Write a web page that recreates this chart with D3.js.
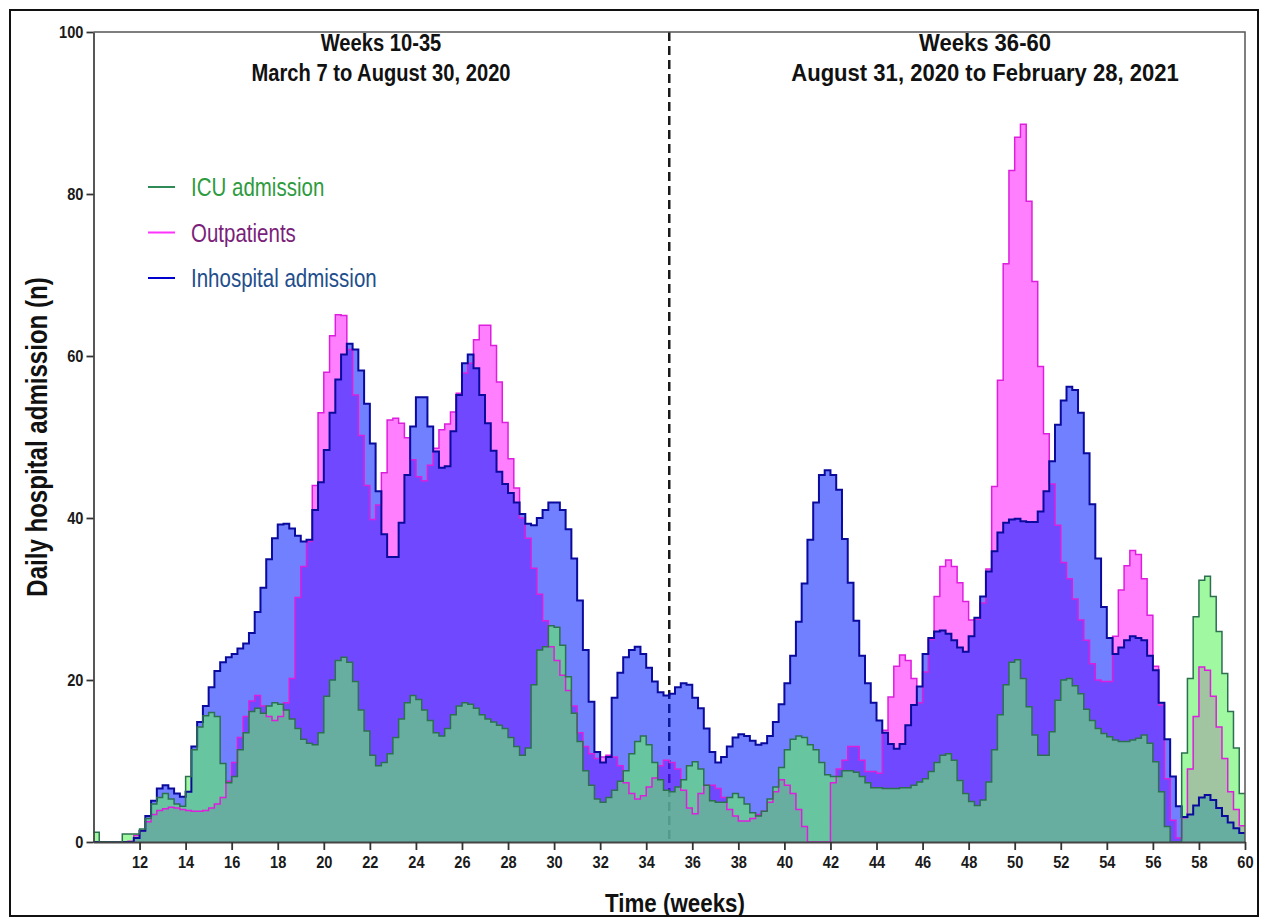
<!DOCTYPE html>
<html>
<head>
<meta charset="utf-8">
<script src="https://cdn.jsdelivr.net/npm/d3@7"></script>
<style>
  body { margin: 0; background: #fff; }
  svg { display: block; }
</style>
</head>
<body>
<div id="chart"></div>
<script>
// Daily hospital admissions, quarter-week steps from week 10 to week 60

const weekStart = 10;
const weekEnd = 60;
const binWidth = 0.25;
const periodBreak = 35;

const xTickWeeks = [12, 14, 16, 18, 20, 22, 24, 26, 28, 30, 32, 34, 36, 38, 40,
  42, 44, 46, 48, 50, 52, 54, 56, 58, 60];
const yTickValues = [0, 20, 40, 60, 80, 100];

const seriesNames = ["ICU admission", "Outpatients", "Inhospital admission"];

const periodTitles = [
  ["Weeks 10-35", "March 7 to August 30, 2020"],
  ["Weeks 36-60", "August 31, 2020 to February 28, 2021"],
];

// one row = two weeks (8 quarter-week values)
const icuAdmission = [
  1.2, 0, 0, 0, 0, 1, 1, 1,                       // 10-11
  1.6, 2.9, 4.7, 5.5, 6, 5.3, 4.7, 4.4,           // 12-13
  8.1, 11.4, 14.2, 15.6, 16, 15.5, 9.7, 7.3,      // 14-15
  8.1, 11.4, 13.5, 16.1, 16.5, 15.9, 16.8, 17.2,  // 16-17
  17, 16.3, 15.2, 14, 12.7, 12.2, 12, 13.5,       // 18-19
  18, 20, 22.4, 22.8, 22.2, 19.8, 16.3, 13.7,     // 20-21
  10.7, 9.4, 9.8, 10.9, 12.9, 15.2, 17.2, 18.1,   // 22-23
  17.6, 16.3, 15, 13.5, 13.1, 14, 15.7, 16.8,     // 24-25
  17.2, 17, 16.5, 15.7, 15.2, 14.8, 14.4, 14,     // 26-27
  12.9, 11.8, 10.7, 11.6, 19.4, 23.7, 24.1, 26.7, // 28-29
  26.5, 24.3, 20.4, 15.9, 12.4, 8.8, 7, 5.3,      // 30-31
  4.9, 5.5, 6.4, 7.5, 8.8, 10.9, 12.4, 13.1,      // 32-33
  12, 9.8, 7.7, 6.4, 6.2, 6.8, 7.7, 9.4,          // 34-35
  9.9, 9, 7, 5.1, 4.9, 4.9, 5.5, 6,               // 36-37
  5.5, 4.7, 3.6, 3.2, 3.8, 5.3, 6.8, 9.2,         // 38-39
  11.4, 12.7, 13.1, 12.9, 12, 11.4, 9.8, 8.3,     // 40-41
  8.1, 8.1, 8.8, 8.8, 8.6, 8.1, 7.3, 6.7,         // 42-43
  6.7, 6.6, 6.6, 6.6, 6.7, 6.7, 7, 7.4,           // 44-45
  7.8, 8.7, 9.8, 10.7, 10.9, 10.1, 7.6, 6,        // 46-47
  5, 4.5, 5.2, 7.4, 11.4, 15.7, 19.4, 22.2,       // 48-49
  22.5, 20.2, 16.7, 13.2, 10.7, 10.7, 13.6, 17.5, // 50-51
  20, 20.2, 19.3, 18.3, 16.4, 15, 14, 13.4,       // 52-53
  13, 12.6, 12.4, 12.4, 12.6, 12.8, 13.2, 12.2,   // 54-55
  9.9, 6.2, 1.9, 0, 0, 11, 20.2, 27.8,            // 56-57
  32.3, 32.8, 30.3, 26, 20.8, 16.1, 11.6, 6,      // 58-59
];

const outpatients = [
  0, 0, 0, 0, 0, 0, 0.1, 0.8,                     // 10-11
  1.4, 2.5, 3.4, 3.9, 4.1, 4.3, 4.2, 4,           // 12-13
  3.9, 3.8, 3.8, 3.9, 4.2, 4.7, 5.5, 7.5,         // 14-15
  9.8, 12.9, 15.5, 17.4, 18.1, 16.8, 15.5, 15,    // 16-17
  15.5, 17.2, 20.2, 30.2, 34, 37.1, 44, 53,       // 18-19
  58, 62.5, 65.1, 65, 60.8, 55.2, 50.2, 44,       // 20-21
  39.8, 41.6, 45.6, 52.1, 52.3, 51.7, 49.9, 47.2, // 22-23
  45.1, 44.6, 46.5, 48.6, 50.9, 51.6, 53.1, 55.4, // 24-25
  57.9, 59.1, 62, 63.8, 63.8, 61.3, 56.8, 51.8,   // 26-27
  47.3, 43.7, 40, 37.5, 33.8, 30.6, 27.3, 24.1,   // 28-29
  22.4, 20.6, 18.7, 16.8, 13.5, 11.8, 10.9, 10.3, // 30-31
  10.5, 10.7, 10.5, 9.4, 7.3, 6, 5.3, 5.7,        // 32-33
  6.8, 7.9, 9.4, 10.1, 9.8, 9, 6.4, 4.2,          // 34-35
  3.5, 6, 7, 7, 6.6, 5.5, 4, 3.2,                 // 36-37
  2.6, 2.6, 2.9, 3.4, 3.8, 4.9, 6.2, 7.7,         // 38-39
  7, 6, 4, 1.9, 0, 0, 0, 0,                       // 40-41
  7.3, 9, 10.1, 11.8, 11.8, 10.1, 8.7, 8.7,       // 42-43
  8.5, 13.8, 17.9, 21.7, 23.1, 22.4, 20.2, 17.2,  // 44-45
  21, 25, 30.3, 34, 34.8, 34, 32, 29.7,           // 46-47
  27.4, 27.5, 29.5, 33.7, 43.9, 57, 71.4, 82.9,   // 48-49
  87, 88.6, 79.1, 69.2, 58.7, 50.4, 44.2, 39.1,   // 50-51
  34.5, 32.5, 30, 27.4, 24.9, 22, 20, 19.8,       // 52-53
  19.8, 25.4, 31.1, 34.1, 36, 35.5, 32.5, 28,     // 54-55
  21.7, 16.9, 7.8, 2.7, 0.5, 3, 9, 15.5,          // 56-57
  21.6, 21.2, 18, 14.2, 10.3, 6.2, 4, 2,          // 58-59
];

const inhospitalAdmission = [
  0, 0, 0, 0, 0, 0, 0, 0.5,                       // 10-11
  1.4, 3.2, 5.1, 6.6, 7, 6.6, 6, 5.6,             // 12-13
  6.2, 11.8, 14.8, 16.8, 19.1, 21.1, 22.2, 22.8,  // 14-15
  23.2, 23.9, 24.5, 25.8, 28.4, 31.4, 34.9, 37.5, // 16-17
  39.2, 39.3, 38.7, 37.8, 37.1, 37.3, 41, 44.4,   // 18-19
  48.4, 53, 57.1, 60.2, 61.5, 60.8, 58.2, 54.1,   // 20-21
  49.2, 43.3, 38, 35.2, 35.2, 39.4, 45.3, 51.3,   // 22-23
  54.9, 54.9, 51.3, 48.2, 46.2, 46.4, 50.7, 55.2, // 24-25
  59.1, 60.2, 58.5, 55.2, 51.7, 48.3, 45.7, 44.2, // 26-27
  43.1, 41.9, 40.5, 39.3, 39.1, 40, 41, 41.9,     // 28-29
  41.9, 41, 38.6, 35, 29.8, 23.7, 17.3, 11.1,     // 30-31
  9.8, 10.5, 17.8, 20.9, 22.8, 23.7, 24.1, 23.2,  // 32-33
  21.5, 19.8, 18.5, 18.1, 18.3, 19.1, 19.6, 19.4, // 34-35
  17.8, 16.5, 14, 11.1, 9.8, 10.5, 11.8, 12.9,    // 36-37
  13.3, 13.1, 12.5, 12, 12.2, 13.1, 14.8, 17,     // 38-39
  19.6, 23, 27.2, 31.9, 37.3, 41.9, 45.3, 45.9,   // 40-41
  45.3, 43.5, 37.4, 32, 27.3, 23, 19.6, 17.2,     // 42-43
  15, 13.5, 12.1, 11.5, 12.1, 14.4, 16.9, 19.2,   // 44-45
  23.2, 25.2, 26, 26.1, 25.7, 24.9, 24, 23.5,     // 46-47
  25.4, 27.7, 30.3, 33.4, 35.9, 38.2, 39.4, 39.8, // 48-49
  39.9, 39.6, 39.5, 39.5, 40.8, 43.3, 47, 51.5,   // 50-51
  54.5, 56.2, 55.8, 53, 48, 41.7, 35, 29,         // 52-53
  25.2, 23.2, 24, 24.9, 25.4, 25.2, 24.9, 23,     // 54-55
  21.2, 17.2, 12.7, 8.1, 4.4, 3.1, 3.4, 4.5,      // 56-57
  5.5, 5.8, 5.2, 4.2, 3.2, 2.4, 1.7, 1.1,         // 58-59
];

// ---- styling ----
// no narrow face is installed, so text is squeezed horizontally to match
const FONT = "'Liberation Sans', Arial, sans-serif";
const STYLE = {
  outpatients: { fill: "#ff00ff", fillOpacity: 0.5, stroke: "#dd1fdd", width: 1.5, text: "#7a1f7a" },
  inhospital: { fill: "#001cff", fillOpacity: 0.56, stroke: "#0a0a9c", width: 2, text: "#1f4e8c" },
  icu: { fill: "#61f361", fillOpacity: 0.6, stroke: "#2c7050", width: 1.5, text: "#2e9b3e" },
};

const width = 1268;
const height = 924;

const svg = d3.select("#chart")
  .append("svg")
  .attr("width", width)
  .attr("height", height)
  .attr("viewBox", [0, 0, width, height]);

svg.append("rect")
  .attr("width", width).attr("height", height)
  .attr("fill", "#fff");

// outer frame
svg.append("rect")
  .attr("x", 10).attr("y", 10)
  .attr("width", 1248).attr("height", 906)
  .attr("fill", "none")
  .attr("stroke", "#111")
  .attr("stroke-width", 2);

const x = d3.scaleLinear().domain([weekStart, weekEnd]).range([93.5, 1245]);
const y = d3.scaleLinear().domain([0, 100]).range([842, 32]);

function toSteps(values) {
  const pts = values.map((v, i) => ({ w: weekStart + i * binWidth, v }));
  pts.push({ w: weekEnd, v: values[values.length - 1] });
  return pts;
}

// condensed text: group at (tx, ty), optional rotation, glyphs squeezed along the text
function narrowText(tx, ty, str, opts) {
  const g = svg.append("g")
    .attr("transform", `translate(${tx},${ty})` + (opts.rotate ? ` rotate(${opts.rotate})` : ""));
  return g.append("text")
    .attr("transform", `scale(${opts.squeeze},1)`)
    .attr("text-anchor", opts.anchor || "start")
    .attr("fill", opts.color || "#111")
    .style("font-family", FONT)
    .style("font-weight", opts.bold ? "bold" : "normal")
    .style("font-size", opts.size + "px")
    .text(str);
}

const area = d3.area()
  .curve(d3.curveStepAfter)
  .x(d => x(d.w))
  .y0(y(0))
  .y1(d => y(d.v));

const line = d3.line()
  .curve(d3.curveStepAfter)
  .x(d => x(d.w))
  .y(d => y(d.v));

// period divider sits under the fills
svg.append("line")
  .attr("x1", x(periodBreak)).attr("x2", x(periodBreak))
  .attr("y1", y(100)).attr("y2", y(0))
  .attr("stroke", "#1a1a1a")
  .attr("stroke-width", 2.5)
  .attr("stroke-dasharray", "9,5");

const layers = [
  { data: toSteps(outpatients), s: STYLE.outpatients },
  { data: toSteps(inhospitalAdmission), s: STYLE.inhospital },
  { data: toSteps(icuAdmission), s: STYLE.icu },
];

const gFill = svg.append("g");
layers.forEach(l => {
  gFill.append("path")
    .attr("d", area(l.data))
    .attr("fill", l.s.fill)
    .attr("fill-opacity", l.s.fillOpacity);
});

const gLine = svg.append("g").attr("fill", "none");
layers.forEach(l => {
  gLine.append("path")
    .attr("d", line(l.data))
    .attr("stroke", l.s.stroke)
    .attr("stroke-width", l.s.width)
    .attr("stroke-linejoin", "miter");
});

// plot frame: top and right edges
svg.append("path")
  .attr("d", `M${x(weekStart)},${y(100)}H${x(weekEnd)}V${y(0)}`)
  .attr("fill", "none")
  .attr("stroke", "#555")
  .attr("stroke-width", 1.5);

// axes
const tickSqueeze = 0.86;

const yAxis = svg.append("g")
  .attr("transform", `translate(${x(weekStart)},0)`)
  .call(d3.axisLeft(y).tickValues(yTickValues).tickSize(7).tickSizeOuter(0).tickPadding(2));

const xAxis = svg.append("g")
  .attr("transform", `translate(0,${y(0)})`)
  .call(d3.axisBottom(x).tickValues(xTickWeeks).tickSize(8).tickSizeOuter(0).tickPadding(6));

[yAxis, xAxis].forEach(g => {
  g.select(".domain").attr("stroke", "#444").attr("stroke-width", 1.8);
  g.selectAll(".tick line").attr("stroke", "#333").attr("stroke-width", 1.8);
  g.selectAll(".tick text")
    .attr("fill", "#1a1a1a")
    .style("font-family", FONT)
    .style("font-weight", "bold")
    .style("font-size", "17px");
});
xAxis.selectAll(".tick text").attr("transform", `scale(${tickSqueeze},1)`);
yAxis.selectAll(".tick text")
  .attr("x", -10 / tickSqueeze)
  .attr("transform", `scale(${tickSqueeze},1)`);

// axis titles
narrowText(47, 437, "Daily hospital admission (n)",
  { rotate: -90, squeeze: 0.83, anchor: "middle", bold: true, size: 29 });
narrowText(675, 912, "Time (weeks)",
  { squeeze: 0.86, anchor: "middle", bold: true, size: 26 });

// period titles (the right-hand block is set a little wider in the source)
const titleX = [381, 985];
const titleSqueeze = [0.84, 0.92];
periodTitles.forEach((lines, i) => {
  lines.forEach((t, j) => {
    narrowText(titleX[i], 51 + j * 30, t,
      { squeeze: titleSqueeze[i], anchor: "middle", bold: true, size: 24 });
  });
});

// legend
const legendStyles = [STYLE.icu, STYLE.outpatients, STYLE.inhospital];
const legendLineColors = ["#2e8b57", "#ff33ff", "#0000cc"];
seriesNames.forEach((name, i) => {
  const ly = 187 + i * 45.5;
  svg.append("line")
    .attr("x1", 148).attr("x2", 175)
    .attr("y1", ly).attr("y2", ly)
    .attr("stroke", legendLineColors[i])
    .attr("stroke-width", 2);
  narrowText(191, ly + 9, name,
    { squeeze: 0.82, size: 25, color: legendStyles[i].text });
});
</script>
</body>
</html>
